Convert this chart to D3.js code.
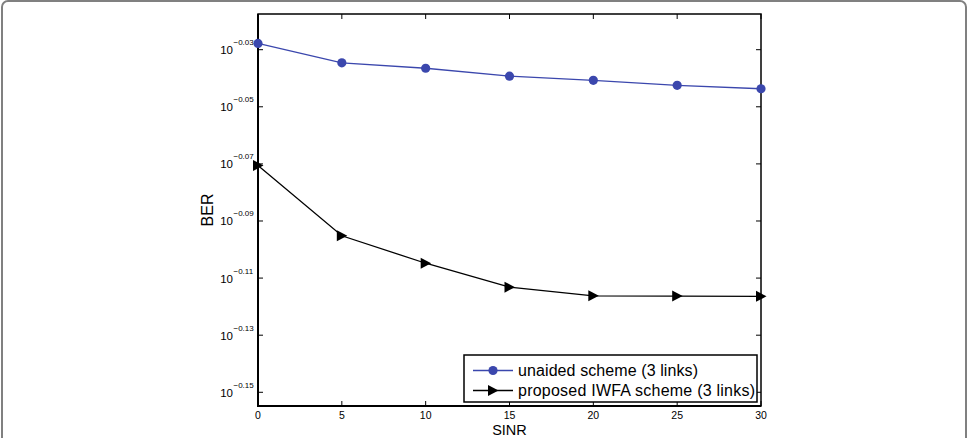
<!DOCTYPE html>
<html>
<head>
<meta charset="utf-8">
<script src="https://cdn.jsdelivr.net/npm/d3@7"></script>
<style>
  body { margin: 0; background: #fff; }
  svg text { font-family: "Liberation Sans", Arial, sans-serif; fill: #000; }
</style>
</head>
<body>
<svg id="chart" width="970" height="438"></svg>
<script>
const sinr = [0, 5, 10, 15, 20, 25, 30];
const unaided = [0.9380, 0.9234, 0.9194, 0.9135, 0.9105, 0.9068, 0.9043];
const proposed = [0.8500, 0.8032, 0.7856, 0.7706, 0.7652, 0.7651, 0.7649];
const xTicks = [0, 5, 10, 15, 20, 25, 30];
const yTickExps = ['-0.03', '-0.05', '-0.07', '-0.09', '-0.11', '-0.13', '-0.15'];
const seriesNames = ['unaided scheme (3 links)', 'proposed IWFA scheme (3 links)'];

const svg = d3.select('#chart');
const pLeft = 258, pRight = 761, pTop = 14, pBottom = 406;
const blue = '#3b47ad';

// outer frame
svg.append('rect')
    .attr('x', 2).attr('y', 1)
    .attr('width', 964).attr('height', 470)
    .attr('rx', 6)
    .attr('fill', 'none')
    .attr('stroke', '#808080')
    .attr('stroke-width', 2);

const x = d3.scaleLinear().domain([0, 30]).range([pLeft, pRight]);
const y = d3.scaleLog().domain([Math.pow(10, -0.1548), Math.pow(10, -0.0175)]).range([pBottom, pTop]);

const yTicks = yTickExps.map(e => Math.pow(10, +e));

// ticks, mirrored like matlab
const tl = 5;
const tickG = svg.append('g').attr('stroke', '#000').attr('stroke-width', 1);
xTicks.forEach(t => {
    tickG.append('line').attr('x1', x(t)).attr('x2', x(t)).attr('y1', pBottom).attr('y2', pBottom - tl);
    tickG.append('line').attr('x1', x(t)).attr('x2', x(t)).attr('y1', pTop).attr('y2', pTop + tl);
});
yTicks.forEach(t => {
    tickG.append('line').attr('x1', pLeft).attr('x2', pLeft + tl).attr('y1', y(t)).attr('y2', y(t));
    tickG.append('line').attr('x1', pRight).attr('x2', pRight - tl).attr('y1', y(t)).attr('y2', y(t));
});

// axes box
svg.append('rect')
    .attr('x', pLeft).attr('y', pTop)
    .attr('width', pRight - pLeft).attr('height', pBottom - pTop)
    .attr('fill', 'none').attr('stroke', '#000').attr('stroke-width', 1.5);
svg.append('line').attr('x1', pLeft).attr('x2', pLeft).attr('y1', pTop).attr('y2', pBottom + 1)
    .attr('stroke', '#000').attr('stroke-width', 2);
svg.append('line').attr('x1', pLeft - 1).attr('x2', pRight).attr('y1', pBottom).attr('y2', pBottom)
    .attr('stroke', '#000').attr('stroke-width', 2);

// x tick labels
svg.append('g').selectAll('text').data(xTicks).enter().append('text')
    .attr('x', d => x(d)).attr('y', 419)
    .attr('text-anchor', 'middle')
    .style('font-size', '10.5px')
    .text(d => d);

// y tick labels: 10^exp
const yl = svg.append('g').selectAll('g').data(yTickExps).enter().append('g')
    .attr('transform', d => `translate(0,${y(Math.pow(10, +d))})`);
yl.append('text')
    .attr('x', 233).attr('y', 4.5)
    .attr('text-anchor', 'end')
    .style('font-size', '11.5px')
    .text('10');
yl.append('text')
    .attr('x', 233.5).attr('y', -4.5)
    .style('font-size', '8px')
    .text(d => d.replace('-', '\u2212'));

// axis titles
svg.append('text')
    .attr('x', (pLeft + pRight) / 2).attr('y', 434.5)
    .attr('text-anchor', 'middle')
    .style('font-size', '14.5px')
    .text('SINR');
svg.append('text')
    .attr('transform', `translate(212.5,${(pTop + pBottom) / 2}) rotate(-90)`)
    .attr('text-anchor', 'middle')
    .style('font-size', '16px')
    .text('BER');

const line = d3.line().x((d, i) => x(sinr[i])).y(d => y(d));

svg.append('path').datum(unaided)
    .attr('d', line).attr('fill', 'none')
    .attr('stroke', blue).attr('stroke-width', 1.3);
svg.append('path').datum(proposed)
    .attr('d', line).attr('fill', 'none')
    .attr('stroke', '#000').attr('stroke-width', 1.3);

const tri = 'M-5,-5.5L5.5,0L-5,5.5Z';

svg.append('g').selectAll('circle').data(unaided).enter().append('circle')
    .attr('cx', (d, i) => x(sinr[i])).attr('cy', d => y(d))
    .attr('r', 4.6).attr('fill', blue);
svg.append('g').selectAll('path').data(proposed).enter().append('path')
    .attr('transform', (d, i) => `translate(${x(sinr[i])},${y(d)})`)
    .attr('d', tri).attr('fill', '#000');

// legend
const lg = svg.append('g');
lg.append('rect')
    .attr('x', 464).attr('y', 355)
    .attr('width', 293).attr('height', 47)
    .attr('fill', '#fff').attr('stroke', '#000').attr('stroke-width', 1.5);
const rows = [370.5, 390.5];
lg.append('line').attr('x1', 473).attr('x2', 513).attr('y1', rows[0]).attr('y2', rows[0])
    .attr('stroke', blue).attr('stroke-width', 1.3);
lg.append('circle').attr('cx', 493).attr('cy', rows[0]).attr('r', 4.6).attr('fill', blue);
lg.append('line').attr('x1', 473).attr('x2', 513).attr('y1', rows[1]).attr('y2', rows[1])
    .attr('stroke', '#000').attr('stroke-width', 1.3);
lg.append('path').attr('transform', `translate(493,${rows[1]})`).attr('d', tri).attr('fill', '#000');
const labLen = [180, 237];
lg.selectAll('text.lab').data(seriesNames).enter().append('text')
    .attr('class', 'lab')
    .attr('x', 518).attr('y', (d, i) => rows[i] + 5.5)
    .style('font-size', '16px')
    .attr('textLength', (d, i) => labLen[i])
    .text(d => d);
</script>
</body>
</html>
